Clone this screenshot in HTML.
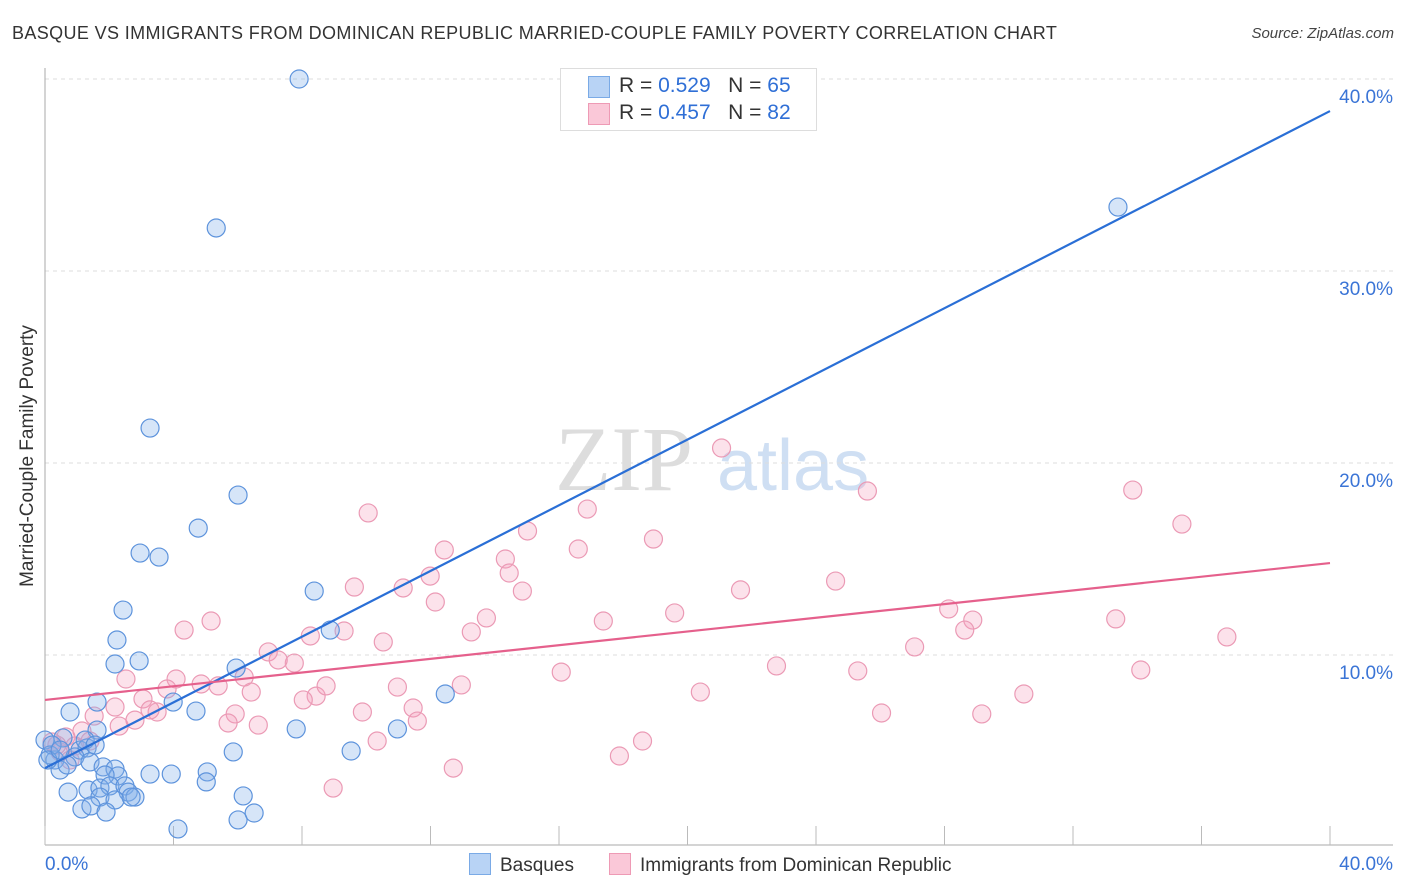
<!DOCTYPE html>
<html><head><meta charset="utf-8">
<style>
body{margin:0;background:#fff;font-family:"Liberation Sans",sans-serif;}
#wrap{position:relative;width:1406px;height:892px;overflow:hidden;}
.t{position:absolute;white-space:nowrap;}
</style></head>
<body>
<div id="wrap">
<div class="t" style="left:12px;top:23px;font-size:18px;color:#333;letter-spacing:0.37px;">BASQUE VS IMMIGRANTS FROM DOMINICAN REPUBLIC MARRIED-COUPLE FAMILY POVERTY CORRELATION CHART</div>
<div class="t" style="right:12px;top:25px;font-size:15px;color:#444;font-style:italic;">Source: ZipAtlas.com</div>
<div class="t" style="left:28px;top:456px;font-size:19px;color:#333;transform:translate(-50%,-50%) rotate(-90deg);">Married-Couple Family Poverty</div>
<svg id="svg" width="1406" height="892" style="position:absolute;left:0;top:0"></svg>
<div style="position:absolute;left:560px;top:68px;width:255px;height:61px;border:1px solid #ddd;background:#fff;font-size:21px;color:#333;">
 <div style="position:absolute;left:27px;top:7px;width:20px;height:20px;background:#b8d3f5;border:1px solid #7aaae6;"></div>
 <div class="t" style="left:58px;top:5px;">R = <span style="color:#2f6fd6">0.529</span> &nbsp; N = <span style="color:#2f6fd6">65</span></div>
 <div style="position:absolute;left:27px;top:34px;width:20px;height:20px;background:#fac8d8;border:1px solid #ee9ab5;"></div>
 <div class="t" style="left:58px;top:32px;">R = <span style="color:#2f6fd6">0.457</span> &nbsp; N = <span style="color:#2f6fd6">82</span></div>
</div>
<div style="position:absolute;left:469px;top:853px;font-size:19px;color:#333;">
 <span style="display:inline-block;width:20px;height:20px;background:#b8d3f5;border:1px solid #7aaae6;vertical-align:-4px;margin-right:9px;"></span>Basques</div>
<div style="position:absolute;left:609px;top:853px;font-size:19px;color:#333;">
 <span style="display:inline-block;width:20px;height:20px;background:#fac8d8;border:1px solid #ee9ab5;vertical-align:-4px;margin-right:9px;"></span>Immigrants from Dominican Republic</div>
</div>
<script>
const yTicks=[10,20,30,40];
const yTickLabels=["10.0%","20.0%","30.0%","40.0%"];
const xTicks=[0,4,8,12,16,20,24,28,32,36,40];
const basqueX=[7.91,5.33,33.4,3.27,6.01,4.77,2.96,3.55,2.43,8.38,8.88,2.24,2.93,2.18,5.95,12.46,1.62,3.99,4.70,0.78,1.62,7.82,10.97,9.53,5.86,1.09,0.56,1.31,0,0.31,0.47,0.93,1.40,1.81,2.18,2.27,1.87,3.27,3.93,5.05,5.02,0.72,1.34,1.71,2.02,2.49,2.59,1.71,2.18,2.80,2.68,6.17,1.15,1.43,1.90,4.14,6.01,6.51,0.69,0.16,0.22,0.09,0.47,1.25,1.56];
const basqueY=[40.0,32.24,33.33,21.82,18.33,16.61,15.31,15.10,12.34,13.33,11.30,10.78,9.69,9.53,9.32,7.97,7.55,7.55,7.08,7.03,6.09,6.15,6.15,5.0,4.95,5.05,5.68,5.16,5.57,4.53,4.01,4.69,4.43,4.17,4.06,3.70,3.75,3.80,3.80,3.91,3.39,2.86,2.97,3.07,3.18,3.18,2.86,2.60,2.45,2.60,2.60,2.66,1.98,2.14,1.82,0.94,1.41,1.77,4.27,4.79,5.31,4.53,5.05,5.57,5.31];
const domX=[21.06,25.6,33.86,35.39,10.06,16.88,15.02,12.43,16.6,18.94,14.33,14.45,11.99,9.63,11.15,24.61,14.86,12.15,13.74,19.6,21.65,17.38,28.13,28.88,28.63,33.33,36.79,4.33,5.17,9.31,13.27,10.53,8.26,6.95,7.76,7.26,27.07,22.77,25.3,34.11,16.07,2.52,4.08,4.86,5.39,8.44,6.2,12.96,10.97,8.75,6.42,3.8,3.05,2.18,1.53,2.31,3.49,3.27,8.04,5.92,9.88,11.46,11.59,20.4,26.04,29.16,30.47,2.8,5.7,6.64,1.15,0.65,0.22,0.93,0.47,10.34,18.6,17.88,12.71,8.97,0.37,0.78,1.40];
const domY=[20.78,18.54,18.59,16.82,17.4,17.6,16.46,15.47,15.52,16.04,15.0,14.27,14.11,13.54,13.49,13.85,13.33,12.76,11.93,12.19,13.39,11.77,12.4,11.82,11.3,11.88,10.94,11.3,11.77,11.25,11.2,10.68,10.99,10.16,9.58,9.74,10.42,9.43,9.17,9.22,9.11,8.75,8.75,8.49,8.39,7.86,8.85,8.44,8.33,8.39,8.07,8.23,7.71,7.29,6.82,6.3,7.03,7.14,7.66,6.93,7.03,7.24,6.56,8.07,6.98,6.93,7.97,6.61,6.46,6.35,6.04,5.73,5.47,5.26,4.95,5.52,5.52,4.74,4.11,3.07,5.31,4.53,5.52];
const basqueTrend=[4.11,38.33];
const domTrend=[7.66,14.79];
const X0=45,X1=1330,Y0=847,Y40=79;
const sx=v=>X0+(X1-X0)*v/40;
const sy=v=>Y0-(Y0-Y40)*v/40;
const svg=document.getElementById('svg');const NS='http://www.w3.org/2000/svg';
function mk(t,a){const e=document.createElementNS(NS,t);for(const k in a)e.setAttribute(k,a[k]);svg.appendChild(e);return e;}
let w=mk('text',{x:555,y:490,'font-size':92,'font-family':'Liberation Serif, serif',fill:'#ddd'});w.textContent='ZIP';


let w2=mk('text',{x:717,y:490,'font-size':72,'font-family':'Liberation Sans, sans-serif',fill:'#cfdff3'});w2.textContent='atlas';


yTicks.forEach((v,i)=>{
 const g=mk('line',{x1:X0,x2:1393,y1:sy(v),y2:sy(v),stroke:'#ddd','stroke-dasharray':'4,4'});
 
 
 const t=mk('text',{x:1393,y:sy(v)+24,'text-anchor':'end','font-size':19,fill:'#3a74d6','font-family':'Liberation Sans, sans-serif'});
 t.textContent=yTickLabels[i];
 
 
});
const ax=mk('line',{x1:X0,x2:1393,y1:845,y2:845,stroke:'#aaa'});


const ay=mk('line',{x1:X0,x2:X0,y1:68,y2:845,stroke:'#aaa'});


xTicks.forEach(v=>{const l=mk('line',{x1:sx(v),x2:sx(v),y1:826,y2:845,stroke:'#bbb'});
 
 });
const xl=mk('text',{x:45,y:870,'font-size':19,fill:'#3a74d6','font-family':'Liberation Sans, sans-serif'});xl.textContent='0.0%';


const xr=mk('text',{x:1393,y:870,'text-anchor':'end','font-size':19,fill:'#3a74d6','font-family':'Liberation Sans, sans-serif'});xr.textContent='40.0%';


domX.forEach((v,i)=>{const c=mk('circle',{cx:sx(v),cy:sy(domY[i]),r:9,fill:'rgba(245,160,190,0.3)',stroke:'#eb9ab5','stroke-width':1.2});
 
 });
basqueX.forEach((v,i)=>{const c=mk('circle',{cx:sx(v),cy:sy(basqueY[i]),r:9,fill:'rgba(130,175,235,0.33)',stroke:'#5d93dc','stroke-width':1.2});
 
 });
const lb=mk('line',{x1:sx(0),y1:sy(basqueTrend[0]),x2:sx(40),y2:sy(basqueTrend[1]),stroke:'#2a6fd6','stroke-width':2.2});


const lp=mk('line',{x1:sx(0),y1:sy(domTrend[0]),x2:sx(40),y2:sy(domTrend[1]),stroke:'#e5608c','stroke-width':2.2});


</script>
</body></html>
